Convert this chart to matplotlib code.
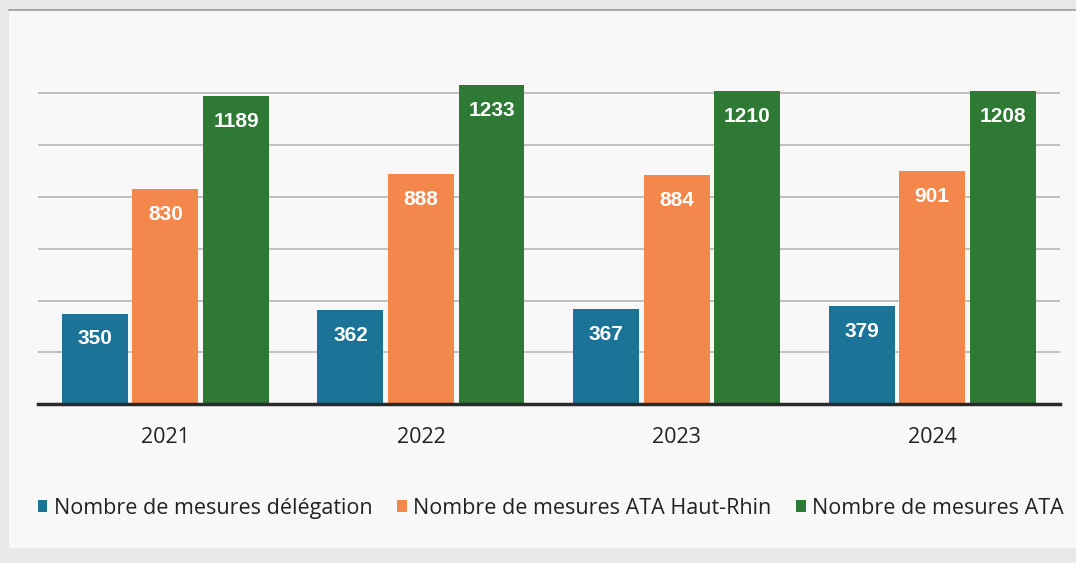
import matplotlib
matplotlib.use('Agg')
import matplotlib.pyplot as plt
import numpy as np
from matplotlib.patches import Rectangle

# Données
annees = ['2021', '2022', '2023', '2024']
series = ['Nombre de mesures délégation',
          'Nombre de mesures ATA Haut-Rhin',
          'Nombre de mesures ATA']
delegation = [350, 362, 367, 379]
ata_haut_rhin = [830, 888, 884, 901]
ata = [1189, 1233, 1210, 1208]

couleurs = ['#1b7398', '#f4874b', '#2e7933']

fig = plt.figure(figsize=(10.76, 5.63), dpi=100, facecolor='#e9e9e9')

# zone du graphique (fond clair avec filet en haut)
fig.patches.append(Rectangle((0.008, 0.027), 0.992, 0.955, transform=fig.transFigure,
                             facecolor='#f8f8f8', edgecolor='none', zorder=-5))
fig.add_artist(plt.Line2D([0.008, 1.0], [0.982, 0.982], transform=fig.transFigure,
                          color='#9a9a9a', linewidth=1.2, zorder=-4))

ax = fig.add_axes([0.035, 0.282, 0.95, 0.644])
ax.set_facecolor('none')
ax.set_zorder(2)

x = np.arange(len(annees))
largeur = 0.258
pas = 0.276

for i, (valeurs, nom) in enumerate(zip([delegation, ata_haut_rhin, ata], series)):
    barres = ax.bar(x + (i - 1) * pas, valeurs, largeur, color=couleurs[i],
                    label=nom, zorder=3)
    ax.bar_label(barres, padding=-25, color='white', fontsize=15,
                 fontweight='bold', family='Liberation Sans')

ax.set_xlim(-0.5, 3.5)
ax.set_ylim(0, 1400)
ax.set_yticks([200, 400, 600, 800, 1000, 1200])
ax.yaxis.grid(True, color='#b8b8b8', linewidth=1.2, zorder=0)
ax.tick_params(axis='y', left=False, labelleft=False)
ax.tick_params(axis='x', bottom=False, pad=13)
ax.set_xticks(x)
ax.set_xticklabels(annees, fontsize=15.5, family='Open Sans', color='#222222')

for cote in ['top', 'right', 'left']:
    ax.spines[cote].set_visible(False)
ax.spines['bottom'].set_color('#2a2a2a')
ax.spines['bottom'].set_linewidth(2.5)
ax.spines['bottom'].set_zorder(4)

leg = fig.legend(loc='center', bbox_to_anchor=(0.512, 0.097), ncol=3, frameon=False,
                 prop={'family': 'Open Sans', 'size': 15.5}, handlelength=0.45,
                 handleheight=0.45, handletextpad=0.3, columnspacing=1.15)
for t in leg.get_texts():
    t.set_color('#222222')

fig.savefig('out.png', dpi=100, facecolor=fig.get_facecolor())
